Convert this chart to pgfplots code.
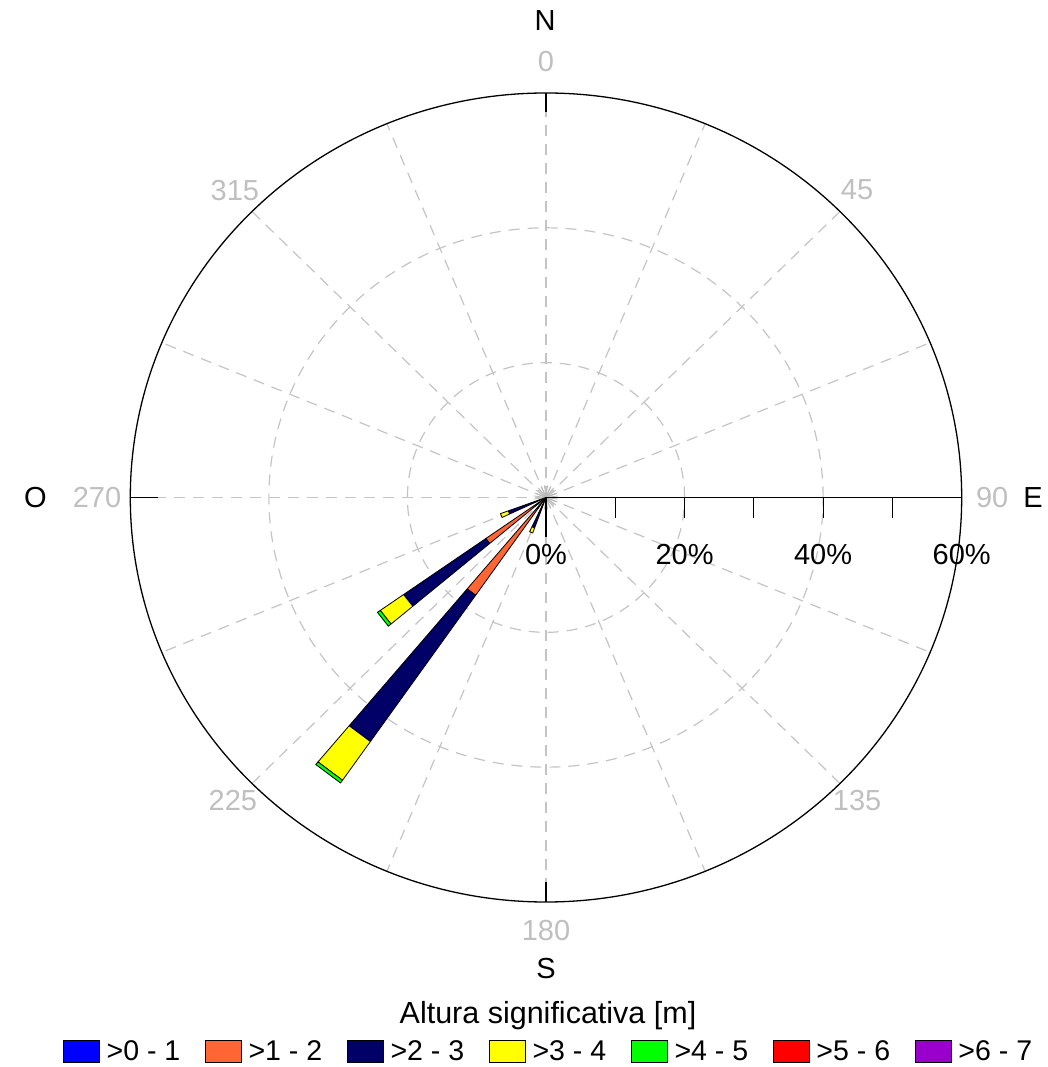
\documentclass[border=0pt]{standalone}
\usepackage{fontspec}
\setmainfont{Liberation Sans}
\usepackage{pgfplots}
\pgfplotsset{compat=1.18}
\definecolor{cA}{HTML}{0000FF}
\definecolor{cB}{HTML}{FF6633}
\definecolor{cC}{HTML}{000066}
\definecolor{cD}{HTML}{FFFF00}
\definecolor{cE}{HTML}{00FF00}
\definecolor{cF}{HTML}{FF0000}
\definecolor{cG}{HTML}{9900CC}
\definecolor{gridgray}{HTML}{C4C4C4}
\definecolor{labgray}{HTML}{BFBFBF}
\newcommand\lfont{\fontsize{29}{34}\selectfont}
% one stacked segment of a rose bar: bearing (deg, clockwise from N), inner %, outer %, colour
\newcommand{\seg}[4]{%
  \addplot[draw=black, line width=0.8pt, fill=#4, line join=round, forget plot]
    table[row sep=\\, x expr={\thisrow{r}*sin(#1+\thisrow{d})}, y expr={\thisrow{r}*cos(#1+\thisrow{d})}]
    {d r\\ -2.5 #2\\ 2.5 #2\\ 2.5 #3\\ -2.5 #3\\ -2.5 #2\\};}
\begin{document}
\begin{tikzpicture}
\path[use as bounding box] (-546pt,497.5pt) rectangle (502pt,-569.5pt);
% grid (background)
\begin{scope}[x=6.9283pt, y=6.7417pt]
  \draw[gridgray, line width=1.2pt, dash pattern=on 11pt off 8pt] (0,0) ellipse [x radius=20, y radius=20];
  \draw[gridgray, line width=1.2pt, dash pattern=on 11pt off 8pt] (0,0) ellipse [x radius=40, y radius=40];
  \foreach \b in {0,22.5,...,337.5}
    \draw[gridgray, line width=1.2pt, dash pattern=on 11pt off 8pt] (0,0) -- ({60*sin(\b)},{60*cos(\b)});
  \foreach \b in {7.5,22.5,...,352.5}
    \draw[gray!55, line width=0.8pt] (0,0) -- ({1.8*sin(\b)},{1.8*cos(\b)});
\end{scope}
\begin{axis}[
  at={(0pt,0pt)}, anchor=center,
  scale only axis, width=831.4pt, height=809pt,
  xmin=-60, xmax=60, ymin=-60, ymax=60,
  hide axis, clip=false,
  legend image code/.code={\draw[#1] (0pt,-11pt) rectangle (36pt,11pt);},
  legend style={at={(axis cs:0.72,-82.15)}, anchor=center, draw=none, fill=none,
    font=\fontsize{28.5}{33}\selectfont, legend columns=7,
    nodes={inner xsep=7pt, inner ysep=0pt},
    /tikz/every even column/.append style={column sep=17.5pt}},
  legend cell align=left,
]
% bearing 217.5
\seg{217.5}{0}{0.6}{cA}
\seg{217.5}{0.6}{17.7}{cB}
\seg{217.5}{17.7}{44.2}{cC}
\seg{217.5}{44.2}{51.2}{cD}
\seg{217.5}{51.2}{51.7}{cE}
% bearing 232.5
\seg{232.5}{0}{0.4}{cA}
\seg{232.5}{0.4}{10.6}{cB}
\seg{232.5}{10.6}{25.1}{cC}
\seg{232.5}{25.1}{29.2}{cD}
\seg{232.5}{29.2}{29.7}{cE}
% bearing 247.5
\seg{247.5}{0}{1.0}{cB}
\seg{247.5}{1.0}{5.8}{cC}
\seg{247.5}{5.8}{7.0}{cD}
% bearing 202.5
\seg{202.5}{0}{4.8}{cC}
\seg{202.5}{4.8}{5.6}{cD}
\addlegendimage{fill=cA, draw=black, line width=0.8pt}\addlegendentry{>0 - 1}
\addlegendimage{fill=cB, draw=black, line width=0.8pt}\addlegendentry{>1 - 2}
\addlegendimage{fill=cC, draw=black, line width=0.8pt}\addlegendentry{>2 - 3}
\addlegendimage{fill=cD, draw=black, line width=0.8pt}\addlegendentry{>3 - 4}
\addlegendimage{fill=cE, draw=black, line width=0.8pt}\addlegendentry{>4 - 5}
\addlegendimage{fill=cF, draw=black, line width=0.8pt}\addlegendentry{>5 - 6}
\addlegendimage{fill=cG, draw=black, line width=0.8pt}\addlegendentry{>6 - 7}
\end{axis}
% overlays
\begin{scope}[x=6.9283pt, y=6.7417pt]
  \draw[black, line width=1.3pt] (0,0) ellipse [x radius=60, y radius=60];
  \draw[black, line width=1.5pt] (0,0) -- (60,0);
  \foreach \r in {10,20,...,60} \draw[black, line width=1.2pt] (\r,0) -- (\r,-3);
  \draw[black, line width=1.2pt] (0,0) -- (0,-5.8);
  \draw[black, line width=1.2pt] (0,60) -- (0,57.2);
  \draw[black, line width=1.2pt] (0,-60) -- (0,-57);
  \draw[black, line width=1.2pt] (-60,0) -- (-56,0);
  \begin{scope}[every node/.style={inner sep=0pt, font=\lfont}]
    \node[labgray] at (0,64.6) {0};
    \node[labgray] at (44.9,45.6) {45};
    \node[labgray] at (64.4,0) {90};
    \node[labgray] at (44.9,-44.9) {135};
    \node[labgray] at (0,-64.2) {180};
    \node[labgray] at (-45.2,-44.9) {225};
    \node[labgray] at (-64.8,0) {270};
    \node[labgray] at (-44.9,45.6) {315};
    \node at (-0.14,70.8) {N};
    \node at (70.3,0) {E};
    \node at (0,-69.8) {S};
    \node at (-73.7,0) {O};
    \node at (0,-8.4) {0\%};
    \node at (20,-8.4) {20\%};
    \node at (40,-8.4) {40\%};
    \node at (60,-8.4) {60\%};
  \end{scope}
\end{scope}
\node[inner sep=0pt, anchor=base, font=\fontsize{30.5}{36}\selectfont] at (2pt,-526pt) {Altura significativa [m]};
\end{tikzpicture}
\end{document}
